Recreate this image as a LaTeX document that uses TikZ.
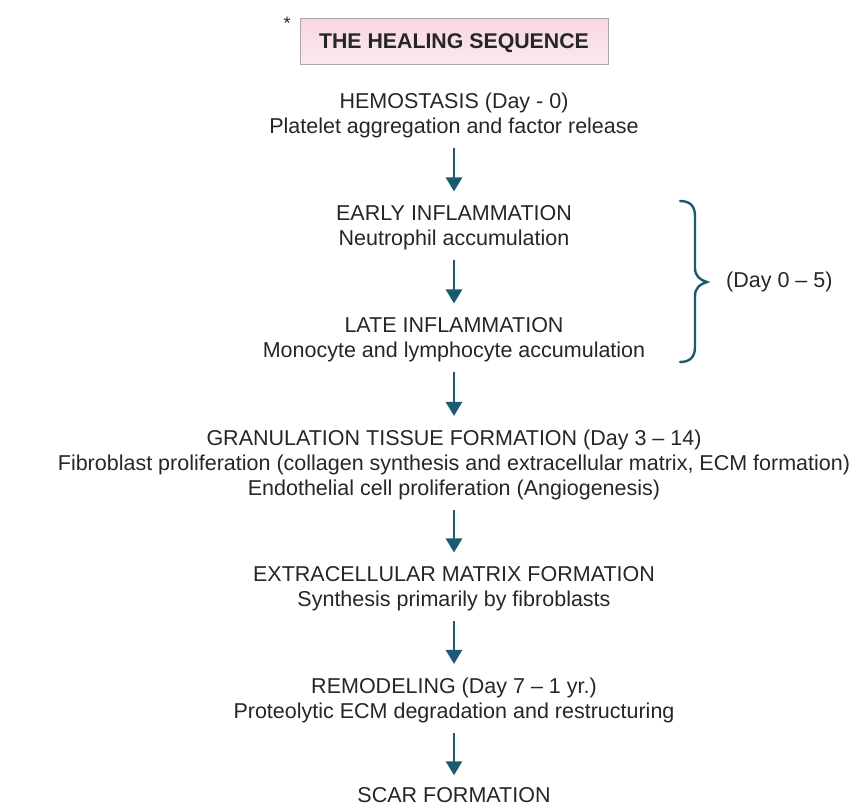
\documentclass[tikz,border=0pt]{standalone}
\usepackage{fontspec}
\setmainfont{Liberation Sans}
\usetikzlibrary{arrows.meta}
\definecolor{arrc}{HTML}{1C5A72}
\definecolor{txt}{HTML}{262626}
\definecolor{pinkA}{HTML}{F7D6E2}
\definecolor{pinkB}{HTML}{FBE9EF}
\definecolor{boxline}{HTML}{A8A8A8}
\tikzset{
  stage/.style={align=center, inner sep=0pt, text=txt, font=\fontsize{21.5}{25}\selectfont},
  arr/.style={draw=arrc, line width=2.6pt, -{Triangle[width=16pt,length=14pt]}, shorten <=10pt, shorten >=14pt},
  titlebox/.style={draw=boxline, line width=0.8pt, top color=pinkA, bottom color=pinkB, minimum width=308pt, minimum height=46pt, inner sep=0pt, text height=15.3pt, text depth=0pt, font=\bfseries\fontsize{21.3}{24}\selectfont, text=txt},
}
\begin{document}
\begin{tikzpicture}[x=1pt,y=-1pt]
\useasboundingbox (0,0) rectangle (857,807);
\node[titlebox] (title) at (454,41) {THE HEALING SEQUENCE};
\node[text=txt, font=\fontsize{18}{18}\selectfont, anchor=center] (ast) at (287,23) {*};
\node[stage, anchor=base] (hem) at (454,133.7) {HEMOSTASIS (Day - 0)\\Platelet aggregation and factor release};
\node[stage, anchor=base] (early) at (454,245.7) {EARLY INFLAMMATION\\Neutrophil accumulation};
\node[stage, anchor=base] (late) at (454,357.7) {LATE INFLAMMATION\\Monocyte and lymphocyte accumulation};
\node[stage, anchor=base] (gran) at (454,495.7) {GRANULATION TISSUE FORMATION (Day 3 -- 14)\\Fibroblast proliferation (collagen synthesis and extracellular matrix, ECM formation)\\Endothelial cell proliferation (Angiogenesis)};
\node[stage, anchor=base] (ecm) at (454,606.7) {EXTRACELLULAR MATRIX FORMATION\\Synthesis primarily by fibroblasts};
\node[stage, anchor=base] (remod) at (454,718.7) {REMODELING (Day 7 -- 1 yr.)\\Proteolytic ECM degradation and restructuring};
\node[stage, anchor=base] (scar) at (454,802.5) {SCAR FORMATION};
\draw[arr] (hem.south) -- (early.north);
\draw[arr] (early.south) -- (late.north);
\draw[arr] (late.south) -- (gran.north);
\draw[arr] (gran.south) -- (ecm.north);
\draw[arr] (ecm.south) -- (remod.north);
\draw[arr, shorten >=12pt] (remod.south) -- (scar.north);
\draw[draw=arrc, line width=2.4pt, line cap=round]
  (680,201) .. controls (690,201) and (695,206) .. (695,216) -- (695,268)
  .. controls (695,276) and (700,280) .. (707,282)
  .. controls (700,284) and (695,288) .. (695,296) -- (695,347)
  .. controls (695,357) and (690,362) .. (680,362);
\coordinate (tip) at (707,282);
\node[stage, anchor=west] (days) at ([xshift=19pt]tip) {(Day 0 -- 5)};
\end{tikzpicture}
\end{document}
